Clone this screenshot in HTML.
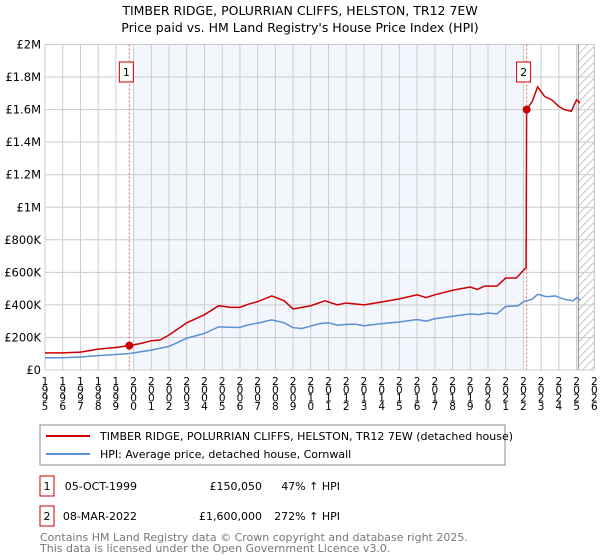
<!DOCTYPE html>
<html><head><meta charset="utf-8"><style>
body{margin:0;background:#fff;font-family:"Liberation Sans","DejaVu Sans",sans-serif;}
svg{display:block}
</style></head><body>
<svg id="c" width="600" height="560" xmlns="http://www.w3.org/2000/svg" font-family="DejaVu Sans, Liberation Sans, sans-serif">
<defs><clipPath id="hclip"><rect x="578" y="44.5" width="16.3" height="325.5"/></clipPath></defs>
<text x="300" y="15" text-anchor="middle" font-size="12.5" fill="#000">TIMBER RIDGE, POLURRIAN CLIFFS, HELSTON, TR12 7EW</text>
<text x="300" y="32" text-anchor="middle" font-size="12.5" fill="#000">Price paid vs. HM Land Registry's House Price Index (HPI)</text>
<g id="plot"></g>
<g>
<rect x="40" y="425" width="465" height="40" fill="#fff" stroke="#888"/>
<line x1="46" y1="436" x2="90" y2="436" stroke="#cc0000" stroke-width="2"/>
<text x="100" y="440" font-size="11">TIMBER RIDGE, POLURRIAN CLIFFS, HELSTON, TR12 7EW (detached house)</text>
<line x1="46" y1="454" x2="90" y2="454" stroke="#5b8fd6" stroke-width="2"/>
<text x="100" y="458" font-size="11">HPI: Average price, detached house, Cornwall</text>
</g>
<g font-size="11">
<rect x="40" y="476" width="14" height="20" fill="#fff" stroke="#cc0000"/>
<text x="47" y="490" text-anchor="middle">1</text>
<text x="137" y="490" text-anchor="end">05-OCT-1999</text>
<text x="262" y="490" text-anchor="end">£150,050</text>
<text x="340" y="490" text-anchor="end">47% ↑ HPI</text>
<rect x="40" y="506" width="14" height="20" fill="#fff" stroke="#cc0000"/>
<text x="47" y="520" text-anchor="middle">2</text>
<text x="137" y="520" text-anchor="end">08-MAR-2022</text>
<text x="262" y="520" text-anchor="end">£1,600,000</text>
<text x="340" y="520" text-anchor="end">272% ↑ HPI</text>
</g>
<text x="40" y="541" font-size="11" fill="#777">Contains HM Land Registry data © Crown copyright and database right 2025.</text>
<text x="40" y="552" font-size="11" fill="#777">This data is licensed under the Open Government Licence v3.0.</text>
</svg>
<script>
const yTicks=[0,200000,400000,600000,800000,1000000,1200000,1400000,1600000,1800000,2000000];
const yTickLabels=["£0","£200K","£400K","£600K","£800K","£1M","£1.2M","£1.4M","£1.6M","£1.8M","£2M"];
const xYears=[1995,1996,1997,1998,1999,2000,2001,2002,2003,2004,2005,2006,2007,2008,2009,2010,2011,2012,2013,2014,2015,2016,2017,2018,2019,2020,2021,2022,2023,2024,2025,2026];
const hpiT=[1995,1996,1997,1998,1999,1999.76,2000,2001,2002,2003,2004,2004.8,2005.5,2006,2006.5,2007,2007.8,2008.5,2009,2009.5,2010,2010.5,2011,2011.5,2012,2012.5,2013,2014,2015,2016,2016.5,2017,2018,2019,2019.5,2020,2020.5,2021,2021.7,2022,2022.5,2022.8,2023.3,2023.8,2024.3,2024.8,2025,2025.2];
const hpiV=[75,75,80,88,95,101,105,122,145,195,225,265,262,262,278,288,308,290,260,255,270,285,290,275,280,282,272,285,295,310,300,315,330,345,340,350,345,390,395,420,435,465,450,455,435,425,445,430];
const redT=[1995,1996,1997,1998,1999,1999.76,2000.5,2001,2001.5,2002,2003,2004,2004.8,2005.5,2006,2006.5,2007,2007.8,2008.5,2009,2010,2010.8,2011.5,2012,2013,2014,2015,2016,2016.5,2017,2018,2019,2019.4,2019.8,2020.5,2021,2021.6,2022.15,2022.18,2022.5,2022.8,2023.2,2023.6,2024,2024.3,2024.7,2025,2025.2];
const redV=[105,105,110,128,138,150,165,180,185,215,290,340,395,385,385,405,420,455,425,375,395,425,400,412,400,418,437,462,445,462,490,510,495,515,515,565,565,630,1600,1650,1740,1680,1660,1620,1600,1590,1660,1640];
const saleT=[1999.76,2022.18];
const saleV=[150050,1600000];
const saleLabels=["1","2"];
const X0=45,X1=594.3,Y0=370,Y1=44.5;
const xs=t=>X0+(t-1995)/(2026-1995)*(X1-X0);
const ys=v=>Y0-v/2000000*(Y0-Y1);
const NS="http://www.w3.org/2000/svg";
const g=document.getElementById('plot');
function mk(tag,a,parent){const e=document.createElementNS(NS,tag);for(const k in a)e.setAttribute(k,a[k]);(parent||g).appendChild(e);return e;}
let e;
e=mk('rect',{x:xs(2000),y:Y1,width:xs(2022)-xs(2000),height:Y0-Y1,fill:'#eef2fc',opacity:0.7});


const hg=mk('g',{'clip-path':'url(#hclip)'});


for(let k=-30;k<360;k+=8){mk('line',{x1:570,y1:Y1+k+24,x2:600,y2:Y1+k-6,stroke:'#bbb','stroke-width':0.8},hg);}
yTicks.forEach((v,i)=>{
 e=mk('line',{x1:X0,x2:X1,y1:ys(v),y2:ys(v),stroke:'#cccccc','stroke-width':1});
 
 
 e=mk('text',{x:X0-4,y:ys(v)+4,'text-anchor':'end','font-size':11.5,fill:'#000'});e.textContent=yTickLabels[i];
 
 
});
xYears.forEach(yr=>{
 e=mk('line',{x1:xs(yr),x2:xs(yr),y1:Y1,y2:Y0,stroke:'#cccccc','stroke-width':1});
 
 
 const t=mk('text',{'text-anchor':'middle','font-size':10.5,fill:'#000'});
 
 
 String(yr).split('').forEach((ch,j)=>{
  const s=mk('tspan',{x:xs(yr),y:Y0+15+j*8.3},t);
  s.textContent=ch;
 });
});
e=mk('line',{x1:xs(2025.1),x2:xs(2025.1),y1:Y1,y2:Y0,stroke:'#888','stroke-width':1});


e=mk('rect',{x:X0,y:Y1,width:X1-X0,height:Y0-Y1,fill:'none',stroke:'#cccccc'});


saleT.forEach((t,i)=>{
 e=mk('line',{x1:xs(t),x2:xs(t),y1:Y1,y2:Y0,stroke:'#e06060','stroke-width':1,'stroke-dasharray':'2,2'});
 
 
});
e=mk('polyline',{points:hpiT.map((t,i)=>xs(t)+','+ys(hpiV[i]*1000)).join(' '),fill:'none',stroke:'#5b8fd6','stroke-width':1.5});


e=mk('polyline',{points:redT.map((t,i)=>xs(t)+','+ys(redV[i]*1000)).join(' '),fill:'none',stroke:'#cc0000','stroke-width':1.5});


saleT.forEach((t,i)=>{
 e=mk('circle',{cx:xs(t),cy:ys(saleV[i]),r:4,fill:'#cc0000'});
 
 
 e=mk('rect',{x:xs(t)-10,y:62,width:14,height:20,fill:'#fff',stroke:'#cc0000'});
 
 
 e=mk('text',{x:xs(t)-3,y:76,'text-anchor':'middle','font-size':11});e.textContent=saleLabels[i];
 
 
});
</script>
</body></html>
